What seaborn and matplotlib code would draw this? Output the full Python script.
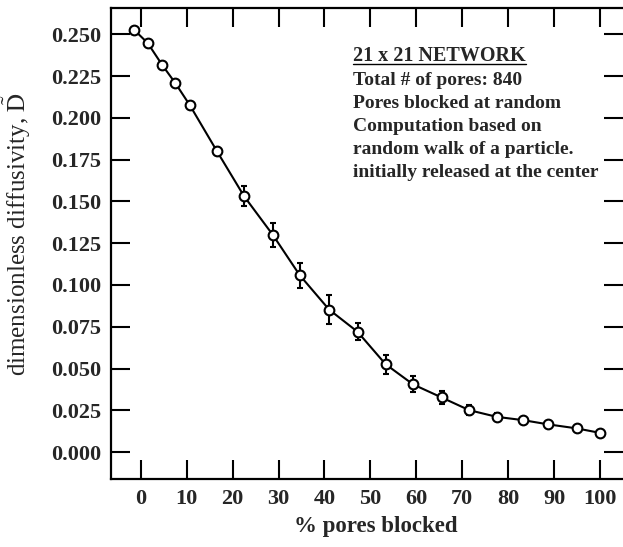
import matplotlib
matplotlib.use("Agg")
import matplotlib.pyplot as plt
import seaborn as sns
import pandas as pd

# ---- data ----
pct_blocked = [-1.5, 1.5, 4.7, 7.5, 10.7, 16.6, 22.5, 28.8, 34.6, 41.0,
               47.2, 53.3, 59.3, 65.5, 71.5, 77.5, 83.3, 88.7, 94.9, 100.0]
diffusivity = [0.2528, 0.2448, 0.2315, 0.2209, 0.2075, 0.1800, 0.1531, 0.1298,
               0.1059, 0.0853, 0.0720, 0.0526, 0.0405, 0.0327, 0.0251, 0.0211,
               0.0191, 0.0166, 0.0142, 0.0115]
err = [0.0, 0.0008, 0.001, 0.001, 0.0012, 0.0025, 0.006, 0.0072, 0.0075, 0.0089,
       0.0052, 0.0057, 0.0048, 0.004, 0.003, 0.002, 0.0012, 0.001, 0.001, 0.0]
x_ticks = [0, 10, 20, 30, 40, 50, 60, 70, 80, 90, 100]
y_ticks = [0.000, 0.025, 0.050, 0.075, 0.100, 0.125, 0.150, 0.175, 0.200, 0.225, 0.250]
y_tick_labels = ["0.000", "0.025", "0.050", "0.075", "0.100", "0.125",
                 "0.150", "0.175", "0.200", "0.225", "0.250"]
note_title = "21 x 21 NETWORK"
note_lines = ["Total # of pores: 840",
              "Pores blocked at random",
              "Computation based on",
              "random walk of a particle.",
              "initially released at the center"]

df = pd.DataFrame({"pct": pct_blocked, "D": diffusivity, "err": err})

sns.set_theme(style="white")
plt.rcParams["font.family"] = ["Liberation Serif", "DejaVu Serif"]
plt.rcParams["mathtext.fontset"] = "stix"

fig = plt.figure(figsize=(6.23, 5.47), dpi=100)
ax = fig.add_axes([0.178, 0.1243, 0.822, 0.8607])

ax.errorbar(df["pct"], df["D"], yerr=df["err"], fmt="none", ecolor="black",
            elinewidth=1.5, capsize=2.5, capthick=1.5, zorder=2)
sns.lineplot(data=df, x="pct", y="D", ax=ax, color="black", linewidth=1.5,
             marker="o", markersize=7, markerfacecolor="white",
             markeredgecolor="black", markeredgewidth=1.5, zorder=3)

ax.set_xlim(-6.5, 105.0)
ax.set_ylim(-0.0161, 0.2656)
ax.set_xticks(x_ticks)
ax.set_xticklabels([str(v) for v in x_ticks])
ax.set_yticks(y_ticks)
ax.set_yticklabels(y_tick_labels)

ax.tick_params(axis="both", direction="in", length=14, width=1.5,
               top=True, right=True, bottom=True, left=True, color="black")
ax.tick_params(axis="x", pad=7, labelsize=16)
ax.tick_params(axis="y", pad=7, labelsize=16)
for lab in ax.get_xticklabels() + ax.get_yticklabels():
    lab.set_fontweight("bold")

for sp in ax.spines.values():
    sp.set_color("black")
    sp.set_linewidth(1.6)
ax.spines["right"].set_visible(False)

ax.set_xlabel("% pores blocked", fontsize=16.5, fontweight="bold")
ax.xaxis.set_label_coords(0.517, -0.079)
ax.set_ylabel(r"dimensionless diffusivity, $\tilde{\mathrm{D}}$", fontsize=18)
ax.yaxis.set_label_coords(-0.153, 0.52)

title_txt = ax.text(0.4736, 0.8875, note_title, transform=ax.transAxes,
                    fontsize=14.5, fontweight="bold", ha="left", va="baseline")
for i, line in enumerate(note_lines):
    ax.text(0.4736, 0.8365 - i * 0.049, line, transform=ax.transAxes,
            fontsize=14, fontweight="bold", ha="left", va="baseline")

# underline the title, matching its rendered width
fig.canvas.draw()
bb = title_txt.get_window_extent(renderer=fig.canvas.get_renderer())
bb_ax = bb.transformed(ax.transAxes.inverted())
ax.plot([bb_ax.x0, bb_ax.x1], [0.881, 0.881], transform=ax.transAxes,
        color="black", linewidth=1.0)

ax.grid(False)
fig.savefig("out.png", dpi=100, facecolor="white")
